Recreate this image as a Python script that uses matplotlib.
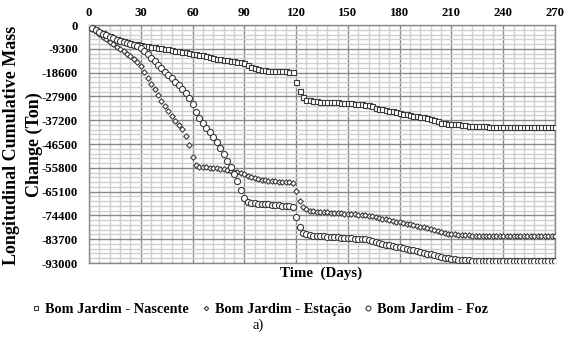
import matplotlib
matplotlib.use("Agg")
import matplotlib.pyplot as plt
from matplotlib.ticker import MultipleLocator

days = list(range(0, 271, 2))

nascente = [
    -500, -1200, -1900, -2600, -3200, -3800, -4400, -4900, -5400, -5800,
    -6200, -6600, -7000, -7300, -7600, -7900, -8100, -8300, -8500, -8700,
    -8900, -9100, -9300, -9500, -9800, -10000, -10300, -10500, -10700, -11000,
    -11200, -11400, -11600, -11900, -12200, -12500, -12800, -13100, -13400, -13600,
    -13800, -14000, -14200, -14400, -14600, -14900, -15600, -16300, -16800, -17200,
    -17500, -17700, -17800, -17900, -17900, -18000, -18000, -18100, -18200, -18500,
    -22300, -25900, -28300, -29200, -29500, -29700, -29800, -29900, -29900, -30000,
    -30000, -30100, -30200, -30300, -30400, -30500, -30600, -30700, -30800, -30900,
    -31100, -31400, -31800, -32300, -32700, -33000, -33300, -33500, -33800, -34100,
    -34400, -34700, -34900, -35200, -35400, -35600, -35800, -36000, -36300, -36700,
    -37200, -37700, -38100, -38300, -38500, -38600, -38700, -38800, -38900, -39100,
    -39300, -39500, -39600, -39600, -39600, -39600, -39700, -39700, -39700, -39700,
    -39700, -39700, -39700, -39700, -39700, -39700, -39700, -39700, -39700, -39700,
    -39700, -39700, -39700, -39700, -39700, -39700,
]

estacao = [
    -300, -1400, -2500, -3600, -4600, -5600, -6600, -7600, -8500, -9400,
    -10300, -11300, -12300, -13300, -14500, -16200, -18500, -20800, -23000, -25200,
    -27400, -29600, -31700, -33700, -35700, -37400, -39000, -40700, -43500, -47000,
    -51700, -54700, -55300, -55400, -55600, -55700, -55800, -55900, -56100, -56300,
    -56600, -57000, -57300, -57600, -57900, -58300, -58900, -59500, -59900, -60200,
    -60500, -60700, -60900, -61000, -61100, -61200, -61300, -61400, -61500, -61600,
    -65000, -68700, -71200, -72000, -72500, -72700, -72900, -73000, -73100, -73200,
    -73300, -73400, -73500, -73600, -73700, -73800, -73900, -74000, -74100, -74200,
    -74300, -74500, -74800, -75100, -75400, -75700, -76000, -76300, -76600, -76800,
    -77000, -77300, -77600, -77900, -78200, -78500, -78800, -79000, -79300, -79600,
    -80000, -80500, -81000, -81300, -81500, -81700, -81800, -81900, -82000, -82100,
    -82200, -82300, -82300, -82400, -82400, -82400, -82500, -82500, -82500, -82500,
    -82500, -82500, -82500, -82500, -82600, -82600, -82600, -82600, -82600, -82600,
    -82600, -82600, -82600, -82600, -82600, -82600,
]

foz = [
    -500, -1300, -2100, -2800, -3500, -4100, -4700, -5200, -5700, -6100,
    -6500, -6900, -7300, -7700, -8200, -9000, -10200, -11500, -12700, -14000,
    -15500, -16900, -18300, -19600, -20800, -22100, -23400, -25000, -26700, -28500,
    -30800, -33900, -36400, -38400, -40300, -42000, -43800, -45800, -48000, -50300,
    -53000, -55600, -58300, -61000, -64500, -67700, -69000, -69400, -69600, -69800,
    -69900, -70000, -70100, -70200, -70400, -70500, -70700, -70800, -70900, -71100,
    -75000, -78800, -81100, -81800, -82100, -82300, -82400, -82500, -82600, -82700,
    -82800, -82900, -83000, -83100, -83200, -83300, -83400, -83500, -83600, -83700,
    -83800, -84000, -84300, -84700, -85100, -85500, -85800, -86100, -86400, -86700,
    -86900, -87200, -87500, -87800, -88100, -88400, -88700, -89000, -89300, -89600,
    -89900, -90300, -90700, -91000, -91200, -91400, -91600, -91700, -91800, -91900,
    -92000, -92100, -92200, -92200, -92200, -92200, -92300, -92300, -92300, -92300,
    -92300, -92300, -92300, -92300, -92300, -92300, -92300, -92300, -92300, -92300,
    -92300, -92300, -92300, -92300, -92300, -92300,
]

x_ticks = [0, 30, 60, 90, 120, 150, 180, 210, 240, 270]
y_ticks = [0, -9300, -18600, -27900, -37200, -46500, -55800, -65100, -74400, -83700, -93000]
series_labels = ["Bom Jardim - Nascente", "Bom Jardim - Estação", "Bom Jardim - Foz"]

plt.rcParams['font.family'] = ['Liberation Serif', 'DejaVu Serif']

fig = plt.figure(figsize=(5.73, 3.40), dpi=100)
ax = fig.add_axes([89/573, 1 - 263/340, (555 - 89)/573, (263 - 25)/340])

edge = '#3a3a3a'
ax.plot(days, nascente, linestyle='none', marker='s', markersize=3.6,
        markerfacecolor='white', markeredgecolor=edge, markeredgewidth=0.8,
        label=series_labels[0], zorder=3)
ax.plot(days, estacao, linestyle='none', marker='D', markersize=2.8,
        markerfacecolor='white', markeredgecolor=edge, markeredgewidth=0.8,
        label=series_labels[1], zorder=3)
ax.plot(days, foz, linestyle='none', marker='o', markersize=4.4,
        markerfacecolor='white', markeredgecolor=edge, markeredgewidth=0.8,
        label=series_labels[2], zorder=3)

ax.set_xlim(0, 270)
ax.set_ylim(-93000, 0)
ax.set_xticks(x_ticks)
ax.set_yticks(y_ticks)
ax.set_yticklabels([str(v) for v in y_ticks])
ax.xaxis.set_minor_locator(MultipleLocator(6))
ax.yaxis.set_minor_locator(MultipleLocator(1860))
ax.xaxis.tick_top()
ax.tick_params(axis='both', which='both', length=0)
ax.tick_params(axis='x', which='major', pad=4, labelsize=9.2)
ax.tick_params(axis='y', which='major', pad=8, labelsize=9.2)
for lab in ax.get_xticklabels() + ax.get_yticklabels():
    lab.set_fontweight('bold')

ax.grid(which='minor', color='#cfcfcf', linewidth=1.0, zorder=0)
ax.grid(which='major', color='#8a8a8a', linewidth=1.0, zorder=1)
ax.set_axisbelow(True)
for sp in ax.spines.values():
    sp.set_color('#8a8a8a')
    sp.set_linewidth(1.0)

fig.text(12/573, 1 - 145/340, "Longitudinal Cumulative Mass", rotation=90,
         ha='center', va='center', fontsize=13, fontweight='bold')
fig.text(34/573, 1 - 145/340, "Change (Ton)", rotation=90,
         ha='center', va='center', fontsize=13, fontweight='bold')
fig.text(321/573, 1 - 273/340, "Time  (Days)", ha='center', va='center',
         fontsize=10.8, fontweight='bold')

leg = fig.legend(loc='center', bbox_to_anchor=(260/573, 1 - 309/340), ncol=3,
                 frameon=False, prop={'weight': 'bold', 'size': 10.3},
                 handlelength=0.6, handletextpad=0.35, columnspacing=0.85,
                 markerscale=0.8)
fig.text(258/573, 1 - 325/340, "a)", ha='center', va='center', fontsize=10.5)

fig.savefig("out.png", dpi=100)
